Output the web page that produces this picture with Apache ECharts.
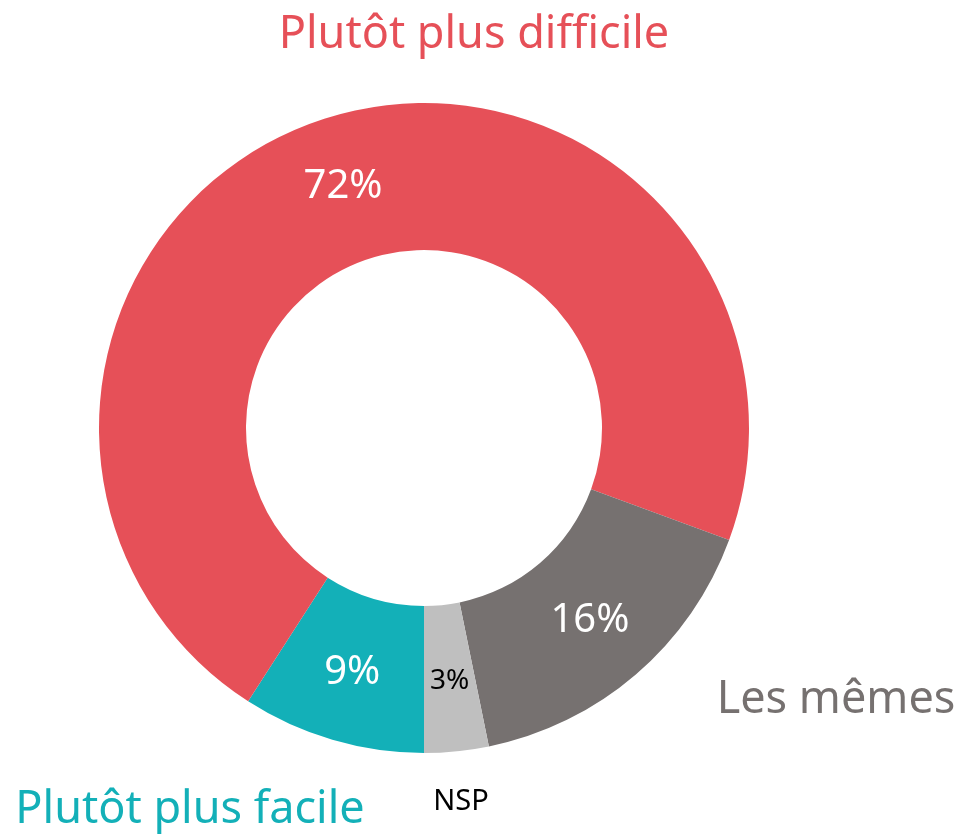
<!DOCTYPE html>
<html>
<head>
<meta charset="utf-8">
<script src="https://cdn.jsdelivr.net/npm/echarts@6/dist/echarts.min.js"></script>
<style>
  html, body { margin: 0; padding: 0; background: #fff; }
  #chart { width: 958px; height: 838px; }
</style>
</head>
<body>
<div id="chart"></div>
<script>
// ordre dans le sens horaire depuis 6 heures
var categories = ['Plutôt plus facile', 'Plutôt plus difficile', 'Les mêmes', 'NSP']
// parts estimées d'après les angles ; affichées arrondies (9, 72, 16, 3)
var values = [9.1, 71.5, 16.2, 3.2]
var colors = ['#13B0B8', '#E65058', '#767170', '#BFBFBF']
var innerLabelColors = ['#fff', '#fff', '#fff', '#000']
var outerLabelColors = ['#13B0B8', '#E65058', '#767170', '#000']
// positions des libellés extérieurs (centre du texte)
var outerLabelPos = [[190, 810], [474, 35], [836, 700], [461, 802]]

var chart = echarts.init(document.getElementById('chart'))

var data = values.map(function (v, i) {
  return {
    name: categories[i],
    value: v,
    itemStyle: { color: colors[i] },
    label: {
      color: innerLabelColors[i],
      fontSize: i === 3 ? 28 : 40
    }
  }
})

var outerData = values.map(function (v, i) {
  return {
    name: categories[i],
    value: v,
    label: {
      color: outerLabelColors[i],
      fontSize: i === 3 ? 29 : 45
    }
  }
})

var options = {
  animation: false,
  series: [
    {
      type: 'pie',
      center: [424, 428],
      radius: [178, 325],
      startAngle: 270,
      clockwise: true,
      silent: true,
      label: {
        show: true,
        position: 'inside',
        fontFamily: 'Noto Sans',
        formatter: function (p) { return Math.round(p.value) + '%' }
      },
      labelLine: { show: false },
      data: data
    },
    {
      type: 'pie',
      center: [424, 428],
      radius: [178, 325],
      startAngle: 270,
      clockwise: true,
      silent: true,
      z: 1,
      itemStyle: { color: 'transparent' },
      label: {
        show: true,
        position: 'outside',
        fontFamily: 'Noto Sans',
        overflow: 'none',
        width: 600,
        formatter: '{b}'
      },
      labelLine: { show: false },
      labelLayout: function (params) {
        var p = outerLabelPos[params.dataIndex]
        return { x: p[0], y: p[1], align: 'center', verticalAlign: 'middle' }
      },
      data: outerData
    }
  ]
}

chart.setOption(options)
window.addEventListener('resize', chart.resize)
</script>
</body>
</html>
